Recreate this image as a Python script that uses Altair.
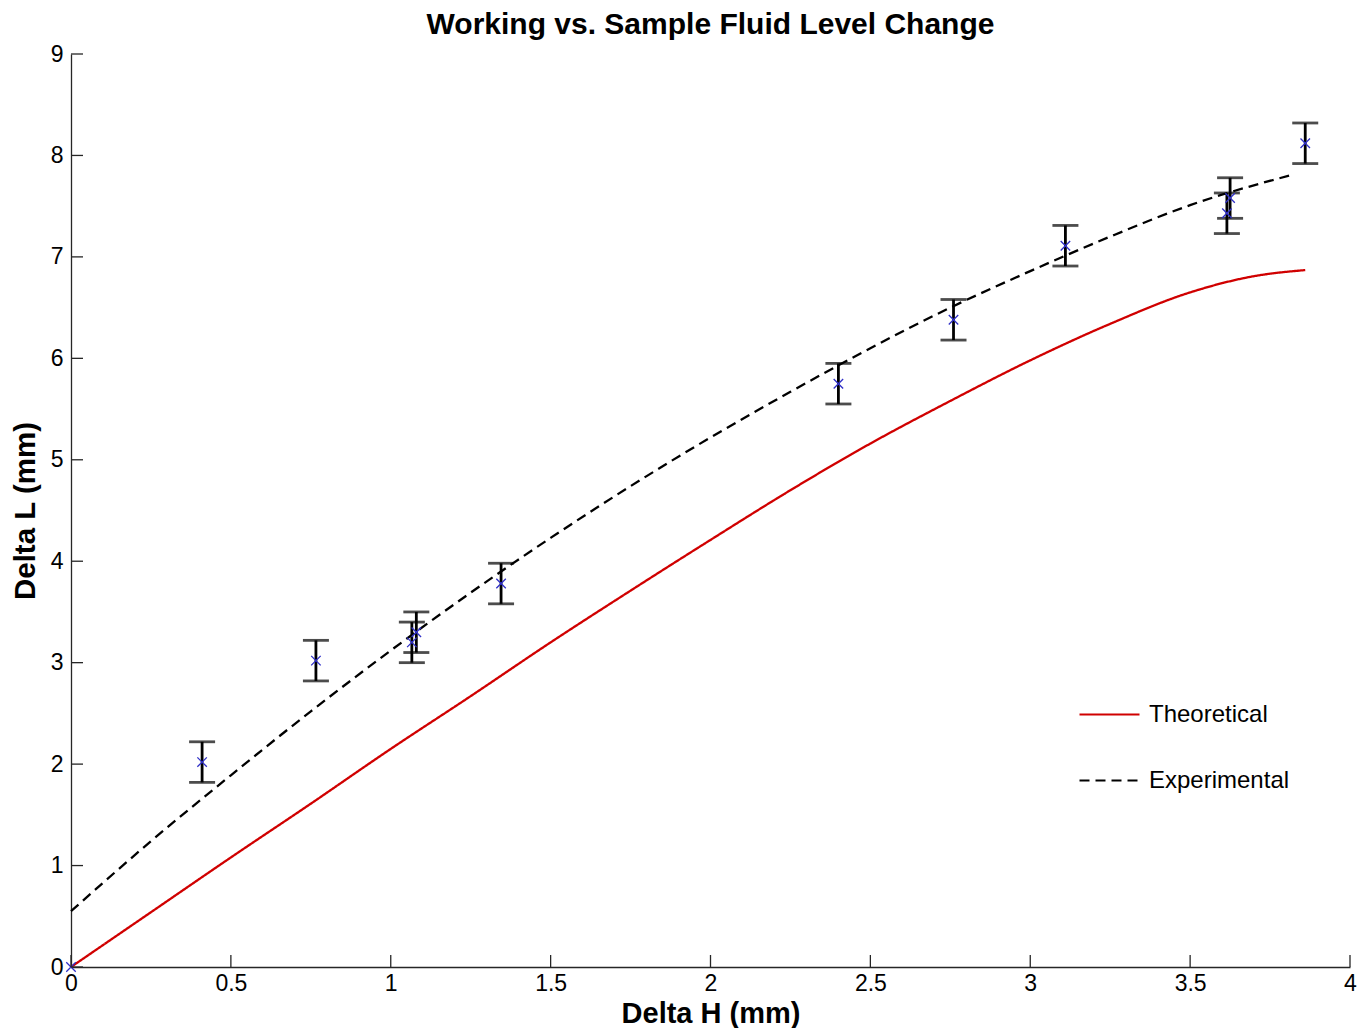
import altair as alt
import pandas as pd

# ---- data ----
series_names = ["Theoretical", "Experimental"]
series_colors = ["#d00000", "#000000"]

# measured points (Delta H, Delta L) with +/- error
meas_dh = [0.0, 0.41, 0.766, 1.066, 1.08, 1.345, 2.40, 2.76, 3.11, 3.615, 3.625, 3.86]
meas_dl = [0.0, 2.02, 3.02, 3.20, 3.30, 3.78, 5.75, 6.38, 7.11, 7.43, 7.58, 8.12]
meas_err = [0.0, 0.2, 0.2, 0.2, 0.2, 0.2, 0.2, 0.2, 0.2, 0.2, 0.2, 0.2]

# theoretical curve (red, solid)
theo_dh = [0.0, 0.25, 0.5, 0.75, 1.0, 1.25, 1.5, 1.75, 2.0, 2.25, 2.5, 2.75, 3.0, 3.25, 3.5, 3.7, 3.86]
theo_dl = [0.0, 0.54, 1.08, 1.61, 2.15, 2.67, 3.20, 3.71, 4.21, 4.70, 5.16, 5.58, 5.98, 6.34, 6.65, 6.81, 6.87]

# experimental fit (black, dashed)
exp_dh = [0.0, 0.25, 0.5, 0.75, 1.0, 1.25, 1.5, 1.75, 2.0, 2.25, 2.5, 2.75, 3.0, 3.25, 3.5, 3.82]
exp_dl = [0.55, 1.24, 1.89, 2.52, 3.12, 3.69, 4.23, 4.74, 5.22, 5.67, 6.10, 6.50, 6.86, 7.20, 7.51, 7.81]

x_ticks = [0, 0.5, 1, 1.5, 2, 2.5, 3, 3.5, 4]
y_ticks = [0, 1, 2, 3, 4, 5, 6, 7, 8, 9]

# ---- tables ----
lines_df = pd.concat([
    pd.DataFrame({"dh": theo_dh, "dl": theo_dl, "series": series_names[0]}),
    pd.DataFrame({"dh": exp_dh, "dl": exp_dl, "series": series_names[1]}),
], ignore_index=True)

meas_df = pd.DataFrame({"dh": meas_dh, "dl": meas_dl, "err": meas_err})
meas_df["lo"] = meas_df["dl"] - meas_df["err"]
meas_df["hi"] = meas_df["dl"] + meas_df["err"]
err_df = meas_df[meas_df["err"] > 0]
caps_df = pd.concat([
    pd.DataFrame({"dh": err_df["dh"], "cap": err_df["lo"]}),
    pd.DataFrame({"dh": err_df["dh"], "cap": err_df["hi"]}),
], ignore_index=True)

xt_df = pd.DataFrame({"v": x_ticks})
yt_df = pd.DataFrame({"v": y_ticks})

W, H = 1279, 913
FONT = "Liberation Sans"
AXC = "#262626"

xs = alt.Scale(domain=[0, 4], nice=False, zero=False)
ys = alt.Scale(domain=[0, 9], nice=False, zero=False)
x_axis = alt.Axis(values=x_ticks, format="~g", ticks=False, tickSize=0, grid=False,
                  domainColor=AXC, domainWidth=1.3, labelFontSize=23, labelFont=FONT,
                  labelColor="black", labelPadding=5, labelFlush=False, labelOverlap=False,
                  title="Delta H (mm)", titleFontSize=29, titleFont=FONT, titleFontWeight="bold",
                  titleColor="black", titlePadding=4)
y_axis = alt.Axis(values=y_ticks, format="d", ticks=False, tickSize=0, grid=False,
                  domainColor=AXC, domainWidth=1.3, labelFontSize=23, labelFont=FONT,
                  labelColor="black", labelPadding=8, labelFlush=False, labelOverlap=False,
                  title="Delta L (mm)", titleFontSize=29.5, titleFont=FONT, titleFontWeight="bold",
                  titleColor="black", titlePadding=10)


def X(field):
    return alt.X(field, type="quantitative", scale=xs, axis=x_axis)


def Y(field):
    return alt.Y(field, type="quantitative", scale=ys, axis=y_axis)


legend = alt.Legend(title=None, orient="none", legendX=1007, legendY=629, padding=0,
                    symbolType="stroke", symbolSize=3600, symbolStrokeWidth=2.2,
                    labelFontSize=24, labelFont=FONT, labelColor="black", labelOffset=8,
                    rowPadding=22)

lines = alt.Chart(lines_df).mark_line(strokeWidth=2.3, interpolate="monotone").encode(
    x=X("dh"),
    y=Y("dl"),
    color=alt.Color("series:N", scale=alt.Scale(domain=series_names, range=series_colors), legend=legend),
    strokeDash=alt.StrokeDash("series:N", scale=alt.Scale(domain=series_names, range=[[1, 0], [10, 6]]), legend=legend),
)

bars = alt.Chart(err_df).mark_rule(color="black", strokeWidth=2.8).encode(
    x=X("dh"), y=Y("lo"), y2="hi"
)
caps = alt.Chart(caps_df).mark_tick(color="black", orient="horizontal", size=26, thickness=2.8).encode(
    x=X("dh"), y=Y("cap")
)
points = alt.Chart(meas_df).mark_point(
    shape="M-1,-1L1,1M-1,1L1,-1", filled=False, size=90, strokeWidth=1.3, color="#3030c8", opacity=1
).encode(x=X("dh"), y=Y("dl"))

ytick_marks = alt.Chart(yt_df).mark_rule(color=AXC, strokeWidth=1.3).encode(
    y=Y("v"), x=alt.value(0), x2=alt.value(12)
)
xtick_marks = alt.Chart(xt_df).mark_rule(color=AXC, strokeWidth=1.3).encode(
    x=X("v"), y=alt.value(H), y2=alt.value(H - 12)
)

chart = alt.layer(lines, bars, caps, points, ytick_marks, xtick_marks).properties(
    width=W, height=H,
    title=alt.TitleParams("Working vs. Sample Fluid Level Change", fontSize=30, font=FONT,
                          fontWeight="bold", color="black", anchor="middle", offset=3),
    padding={"left": 63, "top": 46, "right": 14, "bottom": 61},
    autosize=alt.AutoSizeParams(type="none"),
    view=alt.ViewBackground(stroke="transparent", strokeWidth=0),
).configure_view(stroke="transparent", strokeWidth=0).configure(background="white")

chart.save("out.html", embed_options={"renderer": "svg", "actions": False})
